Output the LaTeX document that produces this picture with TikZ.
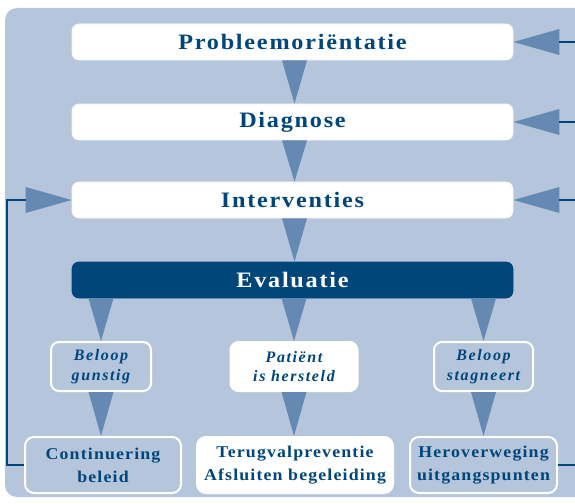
\documentclass[tikz,border=0pt]{standalone}
\usepackage{fontspec}
\setmainfont{Liberation Serif}
\newfontfamily\headfont[FakeStretch=1.1,LetterSpace=8]{Liberation Serif}
\newfontfamily\subfont[LetterSpace=10]{Liberation Serif}
\newfontfamily\stepfont[FakeStretch=1.08,LetterSpace=7]{Liberation Serif}
\usetikzlibrary{calc}
\definecolor{bgblue}{HTML}{B5C6DC}
\definecolor{triblue}{HTML}{6589B3}
\definecolor{darkblue}{HTML}{00467A}
\tikzset{
    mainbox/.style={fill=white,draw=white!85!bgblue,line width=0.7pt,rounded corners=7pt,
        minimum width=441pt,minimum height=36pt,inner sep=0pt,text=darkblue,
        font=\headfont\bfseries\fontsize{22}{24}\selectfont},
    evalbox/.style={mainbox,fill=darkblue,draw=darkblue,text=white},
    casebox/.style={draw=white,line width=2pt,rounded corners=8pt,minimum height=49pt,
        inner sep=0pt,align=center,text=darkblue,
        font=\subfont\bfseries\itshape\fontsize{16}{19.5}\selectfont},
    stepbox/.style={draw=white,line width=2pt,rounded corners=9pt,minimum height=56pt,
        inner sep=0pt,align=center,text=darkblue,
        font=\stepfont\bfseries\fontsize{16.5}{23}\selectfont},
    filled/.style={fill=white},
    tri/.style={fill=triblue},
    loopline/.style={draw=darkblue,line width=1.6pt}
}
\begin{document}
\begin{tikzpicture}[x=1pt,y=-1pt]
\useasboundingbox (0,0) rectangle (575,503);
\clip (0,0) rectangle (575,503);
\fill[bgblue,rounded corners=12pt] (5,8) rectangle (620,497);
% main steps
\node[mainbox] (prob) at (292.5,42) {Probleemoriëntatie};
\node[mainbox] (diag) at (292.5,122) {Diagnose};
\node[mainbox] (int) at (292.5,200) {Interventies};
\node[evalbox] (eval) at (292.5,280) {Evaluatie};
% outcomes
\node[casebox,minimum width=100pt] (gun) at (101,366.5) {Beloop\\gunstig};
\node[casebox,filled,minimum width=127pt] (her) at (294,366.5) {Patiënt\\is hersteld};
\node[casebox,minimum width=99pt] (stag) at (483.5,366.5) {Beloop\\stagneert};
\node[stepbox,minimum width=156pt] (cont) at (103,465) {Continuering\\beleid};
\node[stepbox,filled,minimum width=196pt] (terug) at (295,465) {Terugvalpreventie\\Afsluiten begeleiding};
\node[stepbox,minimum width=147pt] (herov) at (483.5,465) {Heroverweging\\uitgangspunten};
% down triangles
\fill[tri] ($(prob.south)+(-10.5,0)$) -- ($(prob.south)+(14.5,0)$) -- (diag.north -| 294.5,0) -- cycle;
\fill[tri] ($(diag.south)+(-10.5,0)$) -- ($(diag.south)+(14.5,0)$) -- (int.north -| 294.5,0) -- cycle;
\fill[tri] ($(int.south)+(-10.5,0)$) -- ($(int.south)+(14.5,0)$) -- (eval.north -| 294.5,0) -- cycle;
\foreach \from/\to in {gun/cont,her/terug,stag/herov}{
    \fill[tri] ($(eval.south -| \from.north)+(-12.5,0)$) -- ($(eval.south -| \from.north)+(12.5,0)$) -- (\from.north) -- cycle;
    \fill[tri] ($(\from.south)+(-12.5,0)$) -- ($(\from.south)+(12.5,0)$) -- (\to.north -| \from.south) -- cycle;
}
% feedback from the right
\coordinate (edge) at (580,0);
\foreach \n in {prob,diag,int}{
    \fill[tri] (\n.east) -- ($(\n.east)+(46,-13)$) -- ($(\n.east)+(46,13)$) -- cycle;
    \draw[loopline] ($(\n.east)+(46,0)$) -- (\n.east -| edge);
}
\draw[loopline] (herov.east) -- (herov.east -| edge);
% feedback from the left
\coordinate (lft) at (7,0);
\fill[tri] (int.west) -- ($(int.west)+(-46,-13)$) -- ($(int.west)+(-46,13)$) -- cycle;
\draw[loopline] (cont.west) -| (lft |- int.west) -- ($(int.west)+(-46,0)$);
\end{tikzpicture}
\end{document}
